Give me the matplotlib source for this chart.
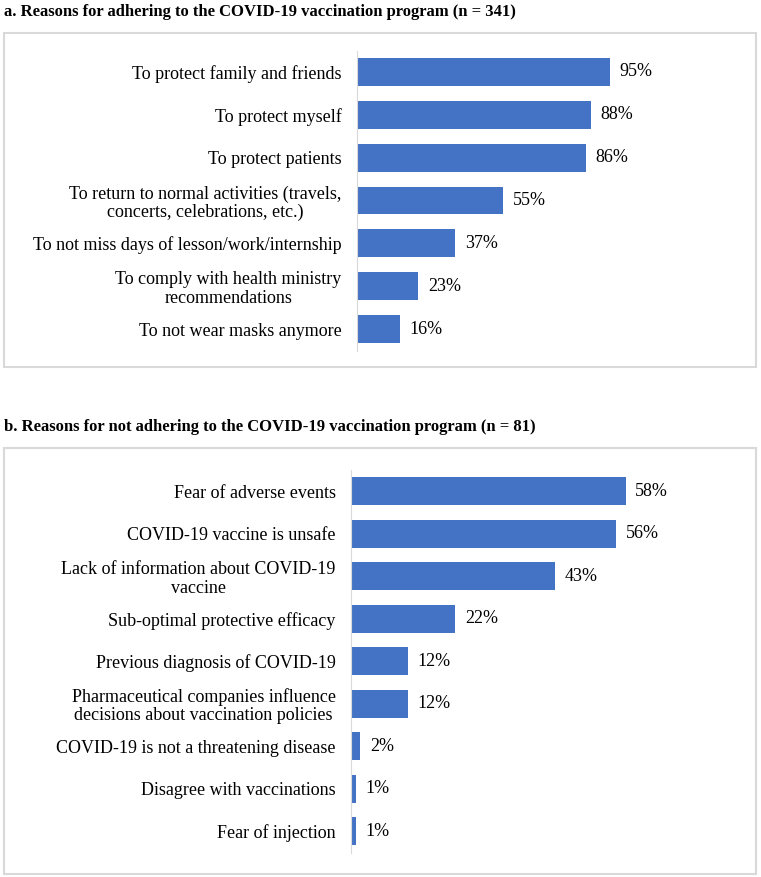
import matplotlib.pyplot as plt
from matplotlib.patches import Rectangle

plt.rcParams['font.family'] = ['Liberation Serif', 'DejaVu Serif']

W, H = 761, 877

reasons_yes = [
    "To protect family and friends",
    "To protect myself",
    "To protect patients",
    "To return to normal activities (travels,\nconcerts, celebrations, etc.)",
    "To not miss days of lesson/work/internship",
    "To comply with health ministry\nrecommendations",
    "To not wear masks anymore",
]
pct_yes = [95, 88, 86, 55, 37, 23, 16]

reasons_no = [
    "Fear of adverse events",
    "COVID-19 vaccine is unsafe",
    "Lack of information about COVID-19\nvaccine",
    "Sub-optimal protective efficacy",
    "Previous diagnosis of COVID-19",
    "Pharmaceutical companies influence\ndecisions about vaccination policies",
    "COVID-19 is not a threatening disease",
    "Disagree with vaccinations",
    "Fear of injection",
]
pct_no = [58, 56, 43, 22, 12, 12, 2, 1, 1]

title_a = "a. Reasons for adhering to the COVID-19 vaccination program (n = 341)"
title_b = "b. Reasons for not adhering to the COVID-19 vaccination program (n = 81)"

bar_color = "#4472C4"
grey = "#D9D9D9"


def px_rect(x0, y0, x1, y1):
    # pixel box (top-left origin) -> figure fraction [left, bottom, w, h]
    return [x0 / W, 1 - y1 / H, (x1 - x0) / W, (y1 - y0) / H]


def draw_panel(fig, rect, labels, values, xmax):
    ax = fig.add_axes(rect)
    y = list(range(len(labels)))
    ax.barh(y, values, height=0.65, color=bar_color)
    ax.set_ylim(len(labels) - 0.5, -0.5)
    ax.set_xlim(0, xmax)
    ax.set_yticks(y)
    ax.set_yticklabels(labels, fontsize=13, multialignment='center',
                       linespacing=1.1)
    ax.tick_params(axis='y', length=0, pad=11)
    ax.set_xticks([])
    for s in ['top', 'right', 'bottom']:
        ax.spines[s].set_visible(False)
    ax.spines['left'].set_color(grey)
    ax.patch.set_alpha(0)
    for yi, v in zip(y, values):
        ax.annotate(f"{v}%", (v, yi), xytext=(7, 0), textcoords='offset points',
                    va='center', ha='left', fontsize=13)
    return ax


fig = plt.figure(figsize=(W / 100, H / 100), dpi=100)

# panel frames
for (x0, y0, x1, y1) in [(4, 33, 756, 367), (4, 448, 756, 874)]:
    fig.add_artist(Rectangle((x0 / W, 1 - y1 / H), (x1 - x0) / W, (y1 - y0) / H,
                             transform=fig.transFigure, fill=False,
                             edgecolor=grey, linewidth=1.5))

fig.text(4 / W, 1 - 12 / H, title_a, fontsize=12, fontweight='bold', va='center', ha='left')
fig.text(4 / W, 1 - 427 / H, title_b, fontsize=12, fontweight='bold', va='center', ha='left')

draw_panel(fig, px_rect(357, 50.5, 623, 350.5), reasons_yes, pct_yes, 100)
draw_panel(fig, px_rect(351, 470, 635, 852.5), reasons_no, pct_no, 60)

fig.savefig("out.png", dpi=100)
